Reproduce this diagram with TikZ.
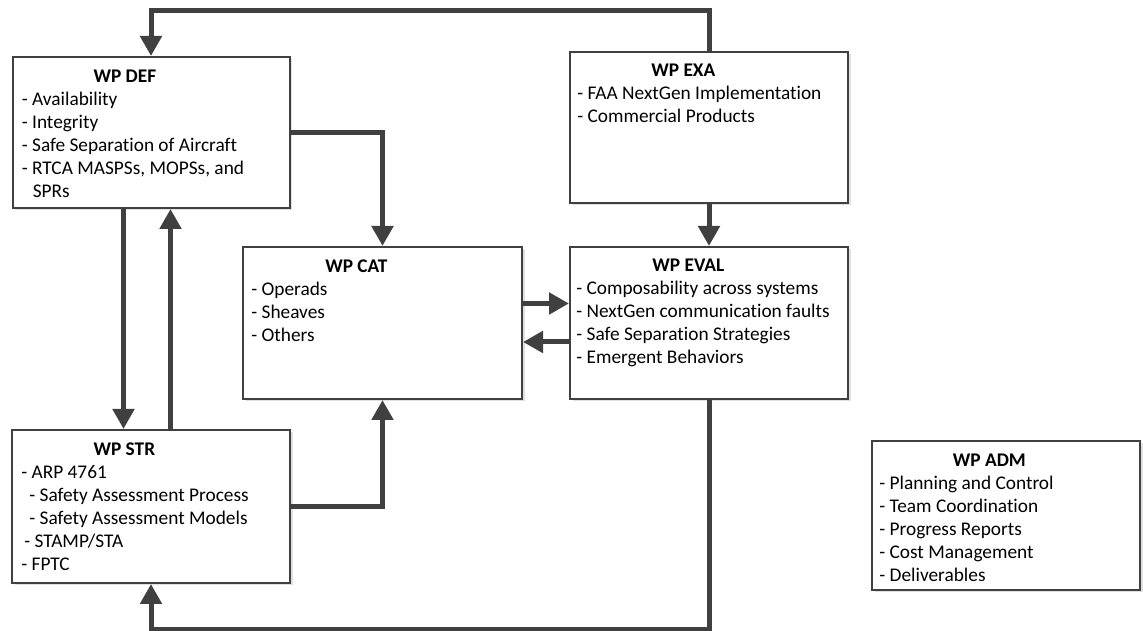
\documentclass[tikz,border=0pt]{standalone}
\usepackage{fontspec}
\setmainfont[Ligatures={NoCommon}]{Carlito}
\usetikzlibrary{arrows.meta,shadows}
\definecolor{linegray}{HTML}{404040}
\newcommand{\wphead}[2]{\makebox[#1]{\textbf{#2}}}

\begin{document}
\begin{tikzpicture}[>={Triangle[length=0.4cm,width=0.42cm]},
    font=\fontsize{11}{13.1}\selectfont,
    wp/.style={draw=linegray, line width=0.04cm, fill=white, rectangle,
               drop shadow={shadow xshift=0.05cm, shadow yshift=-0.05cm,
                            fill=black!30, opacity=0.4}},
    items/.style={anchor=north west, inner sep=0pt, align=left},
    flow/.style={draw=linegray, line width=0.1cm, ->}]
        \useasboundingbox (0,0) rectangle (22.86,12.62);
        %% work packages
        \node[wp, minimum width=5.54cm, minimum height=3.02cm] (def) at (3.02,9.97) {};
        \node[wp, minimum width=5.56cm, minimum height=3.02cm] (exa) at (14.18,10.07) {};
        \node[wp, minimum width=5.58cm, minimum height=3.04cm] (cat) at (7.65,6.16) {};
        \node[wp, minimum width=5.56cm, minimum height=3.04cm] (eval) at (14.18,6.16) {};
        \node[wp, minimum width=5.56cm, minimum height=3.06cm] (str) at (3.02,2.49) {};
        \node[wp, minimum width=5.36cm, minimum height=2.98cm] (adm) at (20.12,2.31) {};
        %% contents
        \node[items] (def-txt) at ([xshift=0.2cm,yshift=-0.28cm]def.north west)
            {\wphead{4.12cm}{WP DEF}\\- Availability\\- Integrity\\
             - Safe Separation of Aircraft\\- RTCA MASPSs, MOPSs, and\\
             \hspace{0.22cm}SPRs};
        \node[items] (exa-txt) at ([xshift=0.16cm,yshift=-0.26cm]exa.north west)
            {\wphead{4.24cm}{WP EXA}\\- FAA NextGen Implementation\\
             - Commercial Products};
        \node[items] (cat-txt) at ([xshift=0.18cm,yshift=-0.26cm]cat.north west)
            {\wphead{4.2cm}{WP CAT}\\- Operads\\- Sheaves\\- Others};
        \node[items] (eval-txt) at ([xshift=0.14cm,yshift=-0.26cm]eval.north west)
            {\wphead{4.48cm}{WP EVAL}\\- Composability across systems\\
             - NextGen communication faults\\- Safe Separation Strategies\\
             - Emergent Behaviors};
        \node[items] (str-txt) at ([xshift=0.2cm,yshift=-0.26cm]str.north west)
            {\wphead{4.12cm}{WP STR}\\- ARP 4761\\
             \hspace{0.16cm}- Safety Assessment Process\\
             \hspace{0.16cm}- Safety Assessment Models\\
             \hspace{0.06cm}- STAMP/STA\\- FPTC};
        \node[items] (adm-txt) at ([xshift=0.16cm,yshift=-0.28cm]adm.north west)
            {\wphead{4.4cm}{WP ADM}\\- Planning and Control\\- Team Coordination\\
             - Progress Reports\\- Cost Management\\- Deliverables};
        %% flows
        \draw[flow] (exa.north) -- ++(0,0.8) -| (def.north);
        \draw[flow] (def.east) -| (cat.north);
        \draw[flow] ([xshift=-0.55cm]def.south) -- ([xshift=-0.55cm]str.north);
        \draw[flow] ([xshift=0.39cm]str.north) -- ([xshift=0.39cm]def.south);
        \draw[flow] (str.east) -| (cat.south);
        \draw[flow] (exa.south) -- (eval.north);
        \draw[flow] ([yshift=0.39cm]cat.east) -- ([yshift=0.39cm]eval.west);
        \draw[flow] ([yshift=-0.38cm]eval.west) -- ([yshift=-0.38cm]cat.east);
        \draw[flow] (eval.south) -- ++(0,-4.6) -| (str.south);
    \end{tikzpicture}
\end{document}
